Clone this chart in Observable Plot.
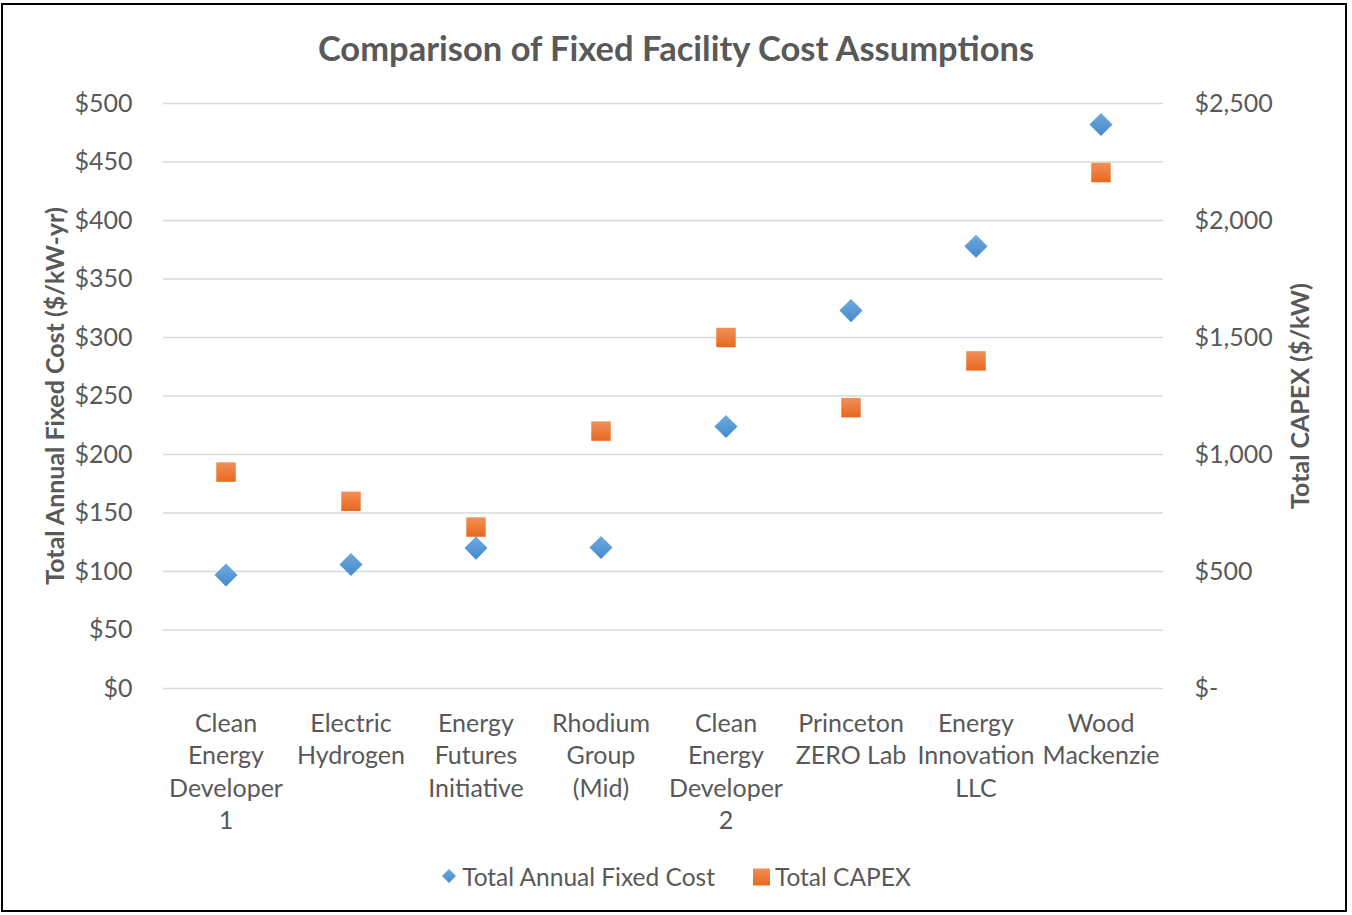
<!DOCTYPE html>
<html>
<head>
<meta charset="utf-8">
<script src="https://cdn.jsdelivr.net/npm/d3@7"></script>
<script src="https://cdn.jsdelivr.net/npm/@observablehq/plot@0.6"></script>
<style>
  html, body { margin: 0; padding: 0; background: #fff; }
  #page { position: relative; width: 1352px; height: 915px; overflow: hidden; font-family: Lato, "Open Sans", sans-serif; color: #595959; }
  #frame { position: absolute; left: 1px; top: 3px; width: 1342px; height: 905px; border: 2px solid #000; }
  #title { position: absolute; left: 0; top: 26px; width: 1352px; text-align: center; font-size: 34.5px; font-weight: 700; line-height: 44px; }
  #chart { position: absolute; left: 0; top: 90px; }
  #legend { position: absolute; left: 0; top: 862px; width: 1352px; display: flex; justify-content: center; align-items: center; font-size: 24.5px; line-height: 30px; }
  #legend .item { display: flex; align-items: center; margin: 0 19px; }
  #legend svg { margin-right: 5px; }
</style>
</head>
<body>
<div id="page">
  <div id="frame"></div>
  <div id="title"></div>
  <div id="chart"></div>
  <div id="legend"></div>
</div>
<script>
// ---- Data ----
const chartTitle = "Comparison of Fixed Facility Cost Assumptions";
const categories = [
  "Clean Energy Developer 1",
  "Electric Hydrogen",
  "Energy Futures Initiative",
  "Rhodium Group (Mid)",
  "Clean Energy Developer 2",
  "Princeton ZERO Lab",
  "Energy Innovation LLC",
  "Wood Mackenzie"
];
const categoryLabels = [
  "Clean\nEnergy\nDeveloper\n1",
  "Electric\nHydrogen",
  "Energy\nFutures\nInitiative",
  "Rhodium\nGroup\n(Mid)",
  "Clean\nEnergy\nDeveloper\n2",
  "Princeton\nZERO Lab",
  "Energy\nInnovation\nLLC",
  "Wood\nMackenzie"
];
const seriesNames = ["Total Annual Fixed Cost", "Total CAPEX"];
const annualFixedCost = [97, 106, 120, 120.5, 224, 323, 378, 482];   // $/kW-yr (left axis)
const totalCapex = [925, 800, 690, 1100, 1500, 1200, 1400, 2205];    // $/kW (right axis)
const leftTicks = [0, 50, 100, 150, 200, 250, 300, 350, 400, 450, 500];
const rightTicks = [0, 500, 1000, 1500, 2000, 2500];
const leftAxisTitle = "Total Annual Fixed Cost ($/kW-yr)";
const rightAxisTitle = "Total CAPEX ($/kW)";

// ---- Build ----
const ratio = rightTicks[rightTicks.length - 1] / leftTicks[leftTicks.length - 1];
const fixedRows = categories.map((c, i) => ({category: c, value: annualFixedCost[i]}));
const capexRows = categories.map((c, i) => ({category: c, value: totalCapex[i]}));
const labelOf = d => categoryLabels[categories.indexOf(d)];
const textColor = "#595959";

document.getElementById("title").textContent = chartTitle;

const plot = Plot.plot({
  width: 1352,
  height: 760,
  marginTop: 13,
  marginBottom: 162,
  marginLeft: 163,
  marginRight: 189,
  style: {fontFamily: "Lato, 'Open Sans', sans-serif", fontSize: "25px", color: textColor, background: "transparent", overflow: "visible"},
  x: {type: "band", domain: categories, padding: 0, label: null},
  y: {domain: [leftTicks[0], leftTicks[leftTicks.length - 1]], label: null},
  marks: [
    Plot.gridY(leftTicks, {stroke: "#d9d9d9", strokeOpacity: 1, strokeWidth: 1.5}),
    Plot.axisY(leftTicks, {anchor: "left", tickSize: 0, tickPadding: 31, tickFormat: d => "$" + d, label: null, fill: textColor, fontSize: 25}),
    Plot.axisY(rightTicks.map(v => v / ratio), {anchor: "right", tickSize: 0, tickPadding: 31,
      tickFormat: d => d === 0 ? "$-" : "$" + d3.format(",")(d * ratio), label: null, fill: textColor, fontSize: 25}),
    Plot.axisX({anchor: "bottom", tickSize: 0, tickPadding: 20, tickFormat: labelOf, lineHeight: 1.3, label: null, fill: textColor, fontSize: 25}),
    Plot.dot(fixedRows, {x: "category", y: "value", symbol: "diamond2", r: 10.4, fill: "url(#gBlue)", stroke: null}),
    Plot.dot(capexRows, {x: "category", y: d => d.value / ratio, symbol: "square2", r: 12.4, fill: "url(#gOrange)", stroke: null}),
    Plot.text([leftAxisTitle], {frameAnchor: "left", dx: -108, rotate: -90, textAnchor: "middle", fontWeight: 700, fontSize: 25, fill: textColor}),
    Plot.text([rightAxisTitle], {frameAnchor: "right", dx: 137, rotate: -90, textAnchor: "middle", fontWeight: 700, fontSize: 25, fill: textColor})
  ]
});

function addGradients(svgSel) {
  const defs = svgSel.insert("defs", ":first-child");
  const g1 = defs.append("linearGradient").attr("id", "gBlue").attr("x1", 0).attr("y1", 0).attr("x2", 0).attr("y2", 1);
  g1.append("stop").attr("offset", "0%").attr("stop-color", "#6eaae0");
  g1.append("stop").attr("offset", "100%").attr("stop-color", "#4689cb");
  const g2 = defs.append("linearGradient").attr("id", "gOrange").attr("x1", 0).attr("y1", 0).attr("x2", 0).attr("y2", 1);
  g2.append("stop").attr("offset", "0%").attr("stop-color", "#f28f58");
  g2.append("stop").attr("offset", "100%").attr("stop-color", "#e8681c");
}
addGradients(d3.select(plot));
document.getElementById("chart").appendChild(plot);

// Legend
const legend = d3.select("#legend");
const symbols = [
  {path: "M8,1L15,8L8,15L1,8Z", grad: "lgBlue", c0: "#6eaae0", c1: "#4689cb", w: 16},
  {path: "M0,0.5H17V17.5H0Z", grad: "lgOrange", c0: "#f28f58", c1: "#e8681c", w: 17}
];
seriesNames.forEach((name, i) => {
  const item = legend.append("span").attr("class", "item");
  const s = symbols[i];
  const svg = item.append("svg").attr("width", s.w).attr("height", 18).attr("viewBox", `0 0 ${s.w} 18`);
  const lg = svg.append("defs").append("linearGradient").attr("id", s.grad).attr("x1", 0).attr("y1", 0).attr("x2", 0).attr("y2", 1);
  lg.append("stop").attr("offset", "0%").attr("stop-color", s.c0);
  lg.append("stop").attr("offset", "100%").attr("stop-color", s.c1);
  svg.append("path").attr("d", s.path).attr("fill", `url(#${s.grad})`);
  item.append("span").text(name);
});
</script>
</body>
</html>
